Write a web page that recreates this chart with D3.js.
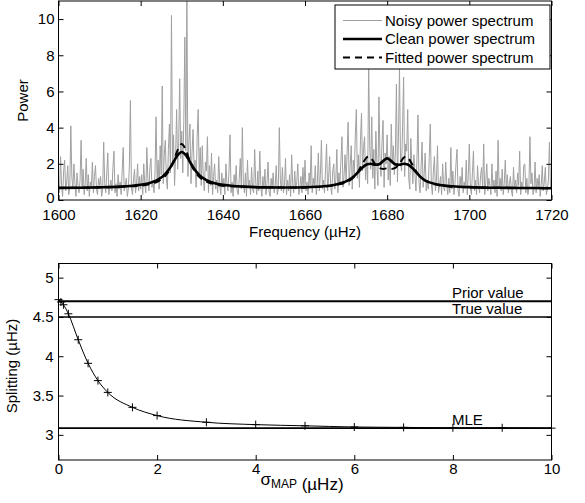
<!DOCTYPE html>
<html><head><meta charset="utf-8">
<script src="https://cdn.jsdelivr.net/npm/d3@7"></script>
<style>
html,body{margin:0;padding:0;background:#fff;}
svg{display:block;font-family:"Liberation Sans",Arial,Helvetica,sans-serif;}
</style></head>
<body>
<svg id="chart" width="585" height="503"></svg>
<script>
// ---------- DATA ----------
// Noisy spectrum, 0.25 µHz steps from 1600 to 1720
const noisyStart = 1600, noisyStep = 0.25;
const noisyPower = [
 1.2,0.4,2.4,0.8,0.2,1.6,2.2,0.5,1.0,1.9,0.3,0.7,4.1,1.3,0.6,2.0,0.9,0.2,1.5,0.8,
 0.4,1.1,3.3,0.6,1.7,0.3,0.9,2.3,0.5,1.4,0.2,1.0,0.7,2.1,0.4,1.3,1.9,0.6,0.3,1.2,
 0.8,1.3,0.2,0.6,3.2,0.9,0.4,1.5,2.6,0.3,0.7,1.1,0.5,1.8,2.7,0.4,0.9,0.2,1.4,0.6,
 1.0,0.3,1.6,2.9,0.5,0.8,1.2,0.2,0.6,1.9,5.5,0.7,0.3,1.1,1.7,0.4,0.9,2.0,0.5,1.3,
 0.6,1.4,0.3,2.0,0.9,0.4,2.9,1.2,0.5,1.8,2.3,0.7,1.1,0.4,1.6,4.6,1.0,2.2,0.6,3.0,
 1.4,6.3,0.9,2.5,3.3,1.2,0.6,2.8,4.2,1.5,10.2,2.0,3.6,0.8,2.4,5.0,1.7,3.1,6.7,2.3,
 3.8,1.5,4.4,9.0,2.7,11.5,1.3,3.3,4.2,0.9,2.6,3.9,1.8,2.2,0.7,3.5,5.0,1.4,2.9,0.8,
 3.0,1.2,0.5,2.1,1.6,3.5,0.4,1.9,0.8,2.6,0.3,1.3,2.0,0.6,1.1,0.4,2.4,0.9,0.3,1.5,
 0.7,1.2,0.3,2.0,0.9,0.5,1.6,3.6,0.4,1.0,0.2,1.4,0.8,1.9,0.5,0.3,1.2,2.3,0.6,4.0,
 0.9,0.4,1.5,0.2,2.2,0.7,1.1,0.3,1.8,0.6,0.4,2.8,1.0,0.3,1.6,0.5,2.7,0.8,0.2,1.3,
 0.6,1.7,0.3,0.9,2.1,0.5,0.2,1.2,0.7,1.5,0.4,0.8,1.9,0.3,0.6,4.0,1.1,0.5,1.8,0.4,
 0.8,2.3,0.3,1.1,0.5,1.4,0.2,2.5,0.9,0.4,1.6,0.6,1.0,2.0,0.3,0.7,1.3,0.4,1.8,0.6,
 2.2,0.5,1.0,0.3,1.5,0.8,3.0,0.4,1.2,0.7,1.9,0.3,0.9,2.6,0.5,1.4,3.3,0.6,1.1,0.4,
 1.7,3.1,0.5,1.2,2.4,0.8,0.3,1.6,2.0,0.6,1.1,2.8,0.4,1.5,0.9,2.2,3.5,0.7,1.3,2.5,
 1.0,2.6,4.3,0.8,1.9,3.0,0.6,2.2,1.4,3.6,5.0,1.2,2.5,0.7,3.3,4.8,1.6,2.9,3.5,1.1,
 2.4,0.9,7.5,3.0,1.7,4.6,1.2,2.8,0.6,3.8,1.9,0.8,5.7,2.3,1.3,3.2,4.4,0.7,2.6,2.0,
 3.6,1.1,2.4,0.8,4.2,2.0,3.0,1.4,2.6,6.4,1.0,3.5,7.3,2.2,1.6,4.0,6.8,1.3,3.1,2.7,
 5.0,1.2,0.6,3.4,2.0,0.9,2.5,1.5,0.5,2.2,4.7,1.0,0.4,1.8,3.2,0.7,1.4,2.6,0.5,1.1,
 0.6,2.4,4.2,0.9,0.3,1.6,2.4,0.5,1.1,3.0,0.4,0.8,1.3,0.3,2.0,0.7,0.5,2.1,0.9,0.3,
 1.2,0.4,2.9,0.6,1.6,0.3,0.9,2.0,2.8,0.5,0.2,1.3,0.7,1.8,0.4,1.0,0.6,2.2,0.3,1.4,
 3.1,0.7,0.3,1.5,2.7,0.5,1.1,0.3,1.9,0.8,0.4,1.4,1.8,0.6,3.1,0.3,1.0,2.0,0.5,1.2,
 0.8,0.3,2.0,0.6,1.1,0.4,1.6,0.2,3.3,0.7,1.2,0.5,1.7,0.3,0.9,2.2,0.6,1.4,0.4,0.9,
 1.3,0.5,0.2,1.8,0.7,1.1,0.4,1.5,0.8,2.7,0.3,1.0,0.6,1.9,2.0,0.4,1.2,0.3,0.7,3.5,
 0.9,1.5,0.3,0.6,2.1,0.4,1.2,0.7,1.4,0.2,0.8,1.9,0.5,1.0,1.8,0.3,0.6,1.1,3.2,0.7,
 1.0
];
const cleanFreq = [1600,1605,1610,1615,1618,1620,1622,1624,1625,1626,1627,1628,1629,1630,1631,1632,1633,1634,1635,1636,1638,1640,1642,1645,1650,1655,1660,1663,1665,1667,1668,1669,1670,1671,1672,1673,1674,1675,1676,1677,1678,1679,1680,1681,1682,1683,1684,1685,1686,1687,1688,1689,1690,1692,1695,1700,1705,1710,1715,1720];
const cleanPower = [0.67,0.68,0.70,0.74,0.79,0.84,0.93,1.10,1.24,1.45,1.73,2.10,2.48,2.65,2.48,2.10,1.73,1.45,1.24,1.10,0.93,0.84,0.79,0.74,0.70,0.69,0.70,0.73,0.77,0.83,0.88,0.95,1.03,1.15,1.33,1.55,1.80,1.96,2.00,1.95,1.97,2.15,2.30,2.15,1.97,1.95,2.00,1.96,1.80,1.55,1.30,1.12,1.00,0.87,0.77,0.71,0.68,0.67,0.66,0.65];
const fitFreq = [1600,1605,1610,1615,1618,1620,1622,1624,1625,1626,1627,1628,1629,1630,1631,1632,1633,1634,1635,1636,1638,1640,1642,1645,1650,1655,1660,1665,1668,1670,1671,1672,1673,1674,1675,1675.5,1676,1677,1678,1679,1680,1681,1682,1683,1684,1684.5,1685,1686,1687,1688,1689,1690,1692,1695,1700,1705,1710,1715,1720];
const fitPower = [0.67,0.68,0.70,0.73,0.76,0.79,0.87,1.01,1.14,1.34,1.65,2.14,2.76,3.10,2.76,2.14,1.65,1.34,1.14,1.01,0.87,0.79,0.76,0.73,0.70,0.69,0.70,0.75,0.85,0.98,1.10,1.30,1.60,2.00,2.35,2.40,2.33,2.00,1.78,1.72,1.75,1.72,1.78,2.00,2.33,2.40,2.35,2.00,1.60,1.30,1.10,0.98,0.85,0.75,0.70,0.68,0.67,0.66,0.65];
const freqTicks = [1600,1620,1640,1660,1680,1700,1720];
const powerTicks = [0,2,4,6,8,10];
const legendLabels = ["Noisy power spectrum","Clean power spectrum","Fitted power spectrum"];

const sigmaMAP = [0,0.05,0.1,0.2,0.4,0.6,0.8,1,1.5,2,3,4,5,6,7,8,9,10];
const splitting = [4.72,4.69,4.655,4.54,4.21,3.91,3.69,3.54,3.35,3.245,3.16,3.13,3.115,3.10,3.095,3.09,3.09,3.085];
const refNames = ["Prior value","True value","MLE"];
const refValues = [4.7,4.5,3.085];
const sigmaTicks = [0,2,4,6,8,10];
const splitTicks = [3,3.5,4,4.5,5];

// ---------- DRAW ----------
const svg = d3.select("#chart");
const FONT = 15;

// ===== Top panel =====
const x1 = d3.scaleLinear().domain([1600,1720]).range([58.5,551.5]);
const y1 = d3.scaleLinear().domain([0,11]).range([200,1]);

svg.append("clipPath").attr("id","clip1").append("rect")
  .attr("x",x1.range()[0]).attr("y",y1.range()[1])
  .attr("width",x1.range()[1]-x1.range()[0]).attr("height",y1.range()[0]-y1.range()[1]);

const noisy = noisyPower.map((p,i)=>({f:noisyStart+i*noisyStep,p}));
const g1 = svg.append("g");
g1.append("path").datum(noisy).attr("clip-path","url(#clip1)")
  .attr("fill","none").attr("stroke","#a0a0a0").attr("stroke-width",1)
  .attr("d",d3.line().x(d=>x1(d.f)).y(d=>y1(d.p)));
g1.append("path").datum(cleanFreq.map((f,i)=>({f,p:cleanPower[i]})))
  .attr("fill","none").attr("stroke","#000").attr("stroke-width",2.6)
  .attr("d",d3.line().curve(d3.curveMonotoneX).x(d=>x1(d.f)).y(d=>y1(d.p)));
g1.append("path").datum(fitFreq.map((f,i)=>({f,p:fitPower[i]})))
  .attr("fill","none").attr("stroke","#000").attr("stroke-width",2)
  .attr("stroke-dasharray","7,5")
  .attr("d",d3.line().curve(d3.curveMonotoneX).x(d=>x1(d.f)).y(d=>y1(d.p)));

function frame(xs, ys, xt, yt, xpad, ypad, yfmt){
  const [xa,xb]=xs.range(), [yb,ya]=ys.range();
  const ax = svg.append("g").attr("transform",`translate(0,${yb})`)
    .call(d3.axisBottom(xs).tickValues(xt).tickSize(-5).tickPadding(xpad).tickFormat(d3.format("d")));
  const at = svg.append("g").attr("transform",`translate(0,${ya})`)
    .call(d3.axisTop(xs).tickValues(xt).tickSize(-5).tickFormat(""));
  const al = svg.append("g").attr("transform",`translate(${xa},0)`)
    .call(d3.axisLeft(ys).tickValues(yt).tickSize(-5).tickPadding(ypad).tickFormat(yfmt));
  const ar = svg.append("g").attr("transform",`translate(${xb},0)`)
    .call(d3.axisRight(ys).tickValues(yt).tickSize(-5).tickFormat(""));
  [ax,at,al,ar].forEach(a=>{
    a.select(".domain").remove();
    a.selectAll("line").attr("stroke","#000");
    a.selectAll("text").attr("font-size",FONT).attr("fill","#000")
      .attr("font-family","'Liberation Sans',Arial,sans-serif");
  });
  svg.append("rect").attr("x",xa).attr("y",ya).attr("width",xb-xa).attr("height",yb-ya)
    .attr("fill","none").attr("stroke","#000").attr("stroke-width",1);
  return {ax,al};
}
const f1 = frame(x1,y1,freqTicks,powerTicks,9,4,d3.format("d"));
// lift the lowest y label slightly so it clears the first x label
f1.al.selectAll(".tick text").filter(d=>d===0).attr("dy","0.17em");

// legend
const lg = svg.append("g");
lg.append("rect").attr("x",335).attr("y",5).attr("width",215).attr("height",64)
  .attr("fill","#fff").attr("stroke","#000").attr("stroke-width",1);
const legStyles = [
  {stroke:"#a0a0a0",w:1,dash:null},
  {stroke:"#000",w:2.6,dash:null},
  {stroke:"#000",w:2,dash:"7,5"}];
const legY = [20.5,39,57.5];
legendLabels.forEach((t,i)=>{
  lg.append("line").attr("x1",343).attr("x2",382).attr("y1",legY[i]).attr("y2",legY[i])
    .attr("stroke",legStyles[i].stroke).attr("stroke-width",legStyles[i].w)
    .attr("stroke-dasharray",legStyles[i].dash);
  lg.append("text").attr("x",385).attr("y",legY[i]).attr("dy","0.35em")
    .attr("font-size",FONT).text(t);
});

svg.append("text").attr("transform","translate(28,100.5) rotate(-90)")
  .attr("text-anchor","middle").attr("font-size",FONT).text("Power");
svg.append("text").attr("x",305).attr("y",237).attr("text-anchor","middle")
  .attr("font-size",FONT).text("Frequency (µHz)");

// ===== Bottom panel =====
const x2 = d3.scaleLinear().domain([0,10]).range([58.5,551.5]);
const y2 = d3.scaleLinear().domain([2.68,5.18]).range([460,263.5]);

const g2 = svg.append("g");
refValues.forEach((v,i)=>{
  g2.append("line").attr("x1",x2(0)).attr("x2",x2(10)).attr("y1",y2(v)).attr("y2",y2(v))
    .attr("stroke","#000").attr("stroke-width",i===1?1.4:1.8);
  g2.append("text").attr("x",x2(7.98)).attr("y",y2(v)-3).attr("font-size",FONT).text(refNames[i]);
});
const pts = sigmaMAP.map((s,i)=>({s,v:splitting[i]}));
g2.append("path").datum(pts).attr("fill","none").attr("stroke","#000").attr("stroke-width",1)
  .attr("d",d3.line().curve(d3.curveMonotoneX).x(d=>x2(d.s)).y(d=>y2(d.v)));
g2.selectAll("path.m").data(pts).join("path").attr("class","m")
  .attr("d",d=>`M${x2(d.s)-4},${y2(d.v)}h8M${x2(d.s)},${y2(d.v)-4}v8`)
  .attr("stroke","#000").attr("stroke-width",1);

frame(x2,y2,sigmaTicks,splitTicks,3,5,d=>d3.format("")(d));

svg.append("text").attr("transform","translate(17,366) rotate(-90)")
  .attr("text-anchor","middle").attr("font-size",FONT).text("Splitting (µHz)");
const xl = svg.append("text").attr("x",302).attr("y",485).attr("text-anchor","middle").attr("font-size",17);
xl.append("tspan").text("σ");
xl.append("tspan").attr("font-size",12).attr("dy",3).text("MAP");
xl.append("tspan").attr("dy",2).text(" (µHz)");
</script>
</body></html>
